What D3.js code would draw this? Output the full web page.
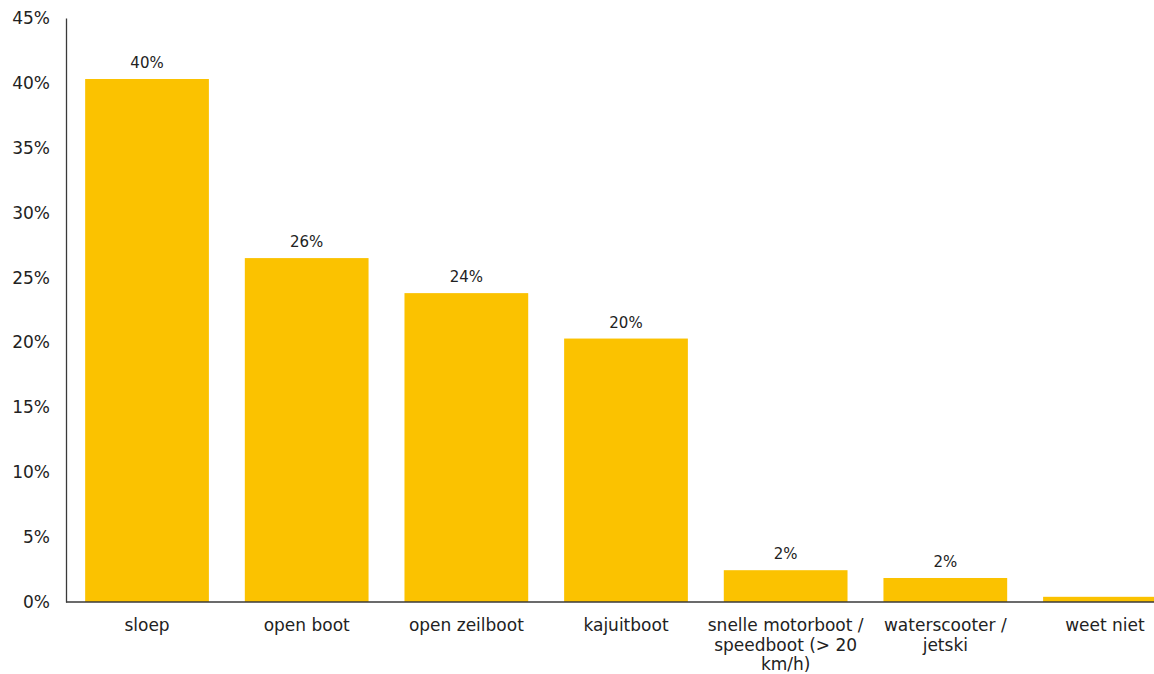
<!DOCTYPE html>
<html>
<head>
<meta charset="utf-8">
<script src="https://cdn.jsdelivr.net/npm/d3@7"></script>
<style>
  body { margin: 0; background: #fff; }
  svg { display: block; font-family: "DejaVu Sans", Verdana, sans-serif; }
  .axis path, .axis line { stroke: #3a3a3a; }
</style>
</head>
<body>
<div id="chart"></div>
<script>
// data
const categories = ["sloep", "open boot", "open zeilboot", "kajuitboot",
  "snelle motorboot / speedboot (> 20 km/h)", "waterscooter / jetski", "weet niet"];
const values = [40.3, 26.5, 23.8, 20.3, 2.45, 1.85, 0.4];
const valueLabels = ["40%", "26%", "24%", "20%", "2%", "2%", ""];
// category labels broken into lines as in the picture
const catLines = [["sloep"], ["open boot"], ["open zeilboot"], ["kajuitboot"],
  ["snelle motorboot /", "speedboot (> 20", "km/h)"], ["waterscooter /", "jetski"], ["weet niet"]];
const yTicks = [0, 5, 10, 15, 20, 25, 30, 35, 40, 45];

const width = 1154, height = 674;
const margin = { left: 66, top: 18, bottom: 72 };
const step = 160;

const svg = d3.select("#chart").append("svg")
  .attr("width", width)
  .attr("height", height);

const x = d3.scaleBand()
  .domain(categories)
  .range([margin.left, margin.left + step * categories.length])
  .paddingInner(0.225)
  .paddingOuter(0.12);

const y = d3.scaleLinear().domain([0, 45]).range([height - margin.bottom, margin.top]);

// bars
svg.selectAll(".bar")
  .data(categories)
  .enter()
  .append("rect")
  .attr("class", "bar")
  .attr("x", (d) => x(d))
  .attr("width", x.bandwidth())
  .attr("y", (d, i) => y(values[i]))
  .attr("height", (d, i) => y(0) - y(values[i]))
  .attr("fill", "#FBC200");

// value labels
svg.selectAll(".vlabel")
  .data(categories)
  .enter()
  .append("text")
  .attr("class", "vlabel")
  .attr("x", (d) => x(d) + x.bandwidth() / 2)
  .attr("y", (d, i) => y(values[i]) - 11)
  .attr("text-anchor", "middle")
  .style("font-size", "15px")
  .style("fill", "#222")
  .text((d, i) => valueLabels[i]);

// y axis
const yAxis = svg.append("g")
  .attr("class", "axis")
  .attr("transform", "translate(" + margin.left + ",0)")
  .call(d3.axisLeft(y).tickValues(yTicks).tickSize(0).tickPadding(16).tickFormat((d) => d + "%"));
yAxis.select(".domain").attr("stroke-width", 1.3);
yAxis.selectAll("text")
  .style("font-size", "17px")
  .style("fill", "#222")
  .style("font-family", "DejaVu Sans, Verdana, sans-serif");

// x axis line
svg.append("line")
  .attr("x1", margin.left)
  .attr("x2", width)
  .attr("y1", y(0))
  .attr("y2", y(0))
  .attr("stroke", "#3a3a3a")
  .attr("stroke-width", 1.3);

// category labels
const catG = svg.selectAll(".cat")
  .data(categories)
  .enter()
  .append("text")
  .attr("class", "cat")
  .attr("text-anchor", "middle")
  .style("font-size", "17px")
  .style("fill", "#222")
  .attr("x", (d) => x(d) + x.bandwidth() / 2)
  .attr("y", y(0) + 29);

catG.each(function (d, i) {
  const t = d3.select(this);
  catLines[i].forEach((line, j) => {
    t.append("tspan")
      .attr("x", x(d) + x.bandwidth() / 2)
      .attr("dy", j === 0 ? 0 : 19.5)
      .text(line);
  });
});
</script>
</body>
</html>
